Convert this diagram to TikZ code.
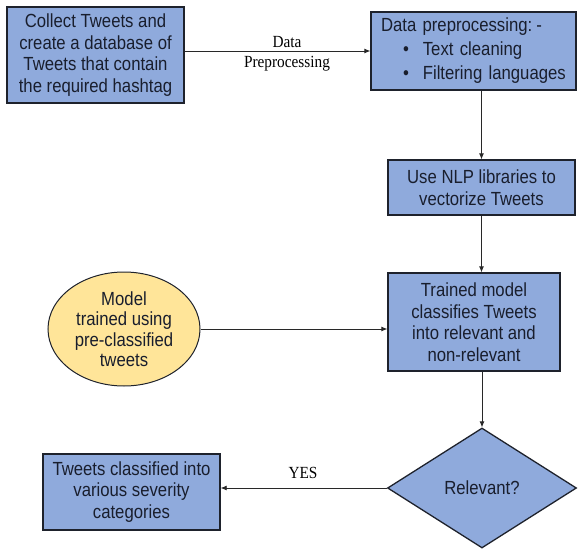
\documentclass[tikz,border=0pt]{standalone}
\usepackage{fontspec}
\usetikzlibrary{shapes.geometric,arrows.meta}
\newfontfamily\boxfont{Liberation Sans}[FakeStretch=0.88]
\newfontfamily\labfont{Liberation Serif}[FakeStretch=0.9]
\definecolor{boxblue}{RGB}{143,170,220}
\definecolor{elyellow}{RGB}{255,229,153}
\definecolor{edgecol}{RGB}{30,34,44}
\definecolor{txtcol}{RGB}{25,30,45}
\definecolor{conncol}{RGB}{40,40,40}
\begin{document}
\begin{tikzpicture}[x=1pt,y=-1pt,
  box/.style={draw=edgecol, line width=1.3pt, fill=boxblue, text=txtcol,
    font=\boxfont\fontsize{19}{21.5}\selectfont, align=center, inner sep=0pt},
  ell/.style={ellipse, draw=edgecol, line width=1pt, fill=elyellow, text=txtcol,
    font=\boxfont\fontsize{19}{20.5}\selectfont, align=center, inner sep=0pt},
  dia/.style={diamond, draw=edgecol, line width=1.3pt, fill=boxblue, text=txtcol,
    font=\boxfont\fontsize{19}{21.5}\selectfont, inner sep=0pt},
  lab/.style={font=\labfont\fontsize{17}{20}\selectfont, text=black, align=center, inner sep=0pt},
  conn/.style={draw=conncol, line width=0.8pt, -{Latex[length=6pt,width=5pt]}}]
\useasboundingbox (0,0) rectangle (579,549);

\node[box, minimum width=177pt, minimum height=96pt] (b1) at (95.5,55)
  {Collect Tweets and\\create a database of\\Tweets that contain\\the required hashtag};
\node[box, minimum width=205pt, minimum height=78pt, align=left, text width=185pt,
  font=\boxfont\fontsize{19}{24}\selectfont] (b2) at (473.5,51)
  {\mbox{Data preprocessing:\hspace{4pt}-}\\\mbox{\hspace*{22pt}\textbullet\hspace{14pt}Text cleaning}\\\mbox{\hspace*{22pt}\textbullet\hspace{14pt}Filtering languages}};
\node[box, minimum width=187pt, minimum height=55pt] (b3) at (481.5,187.5)
  {Use NLP libraries to\\vectorize Tweets};
\node[box, minimum width=172pt, minimum height=98pt] (b4) at (474,322)
  {Trained model\\classifies Tweets\\into relevant and\\non-relevant};
\node[ell, minimum width=152pt, minimum height=114pt] (el) at (124,329)
  {Model\\trained using\\pre-classified\\tweets};
\node[dia, minimum width=189pt, minimum height=120pt] (d) at (482,488) {Relevant?};
\node[box, minimum width=177pt, minimum height=76pt] (b5) at (131.5,492)
  {Tweets classified into\\various severity\\categories};

\node[lab] (l1) at (287,54) {Data\\Preprocessing};
\node[lab] (l2) at (303,473) {YES};

\draw[conn] (b1.east |- b2.west) -- (b2.west);
\draw[conn] (b2.south -| b3.north) -- (b3.north);
\draw[conn] (b3.south) -- (b3.south |- b4.north);
\draw[conn] (el.east) -- (el.east -| b4.west);
\draw[conn] (d.north |- b4.south) -- (d.north);
\draw[conn] (d.west) -- (d.west -| b5.east);
\end{tikzpicture}
\end{document}
